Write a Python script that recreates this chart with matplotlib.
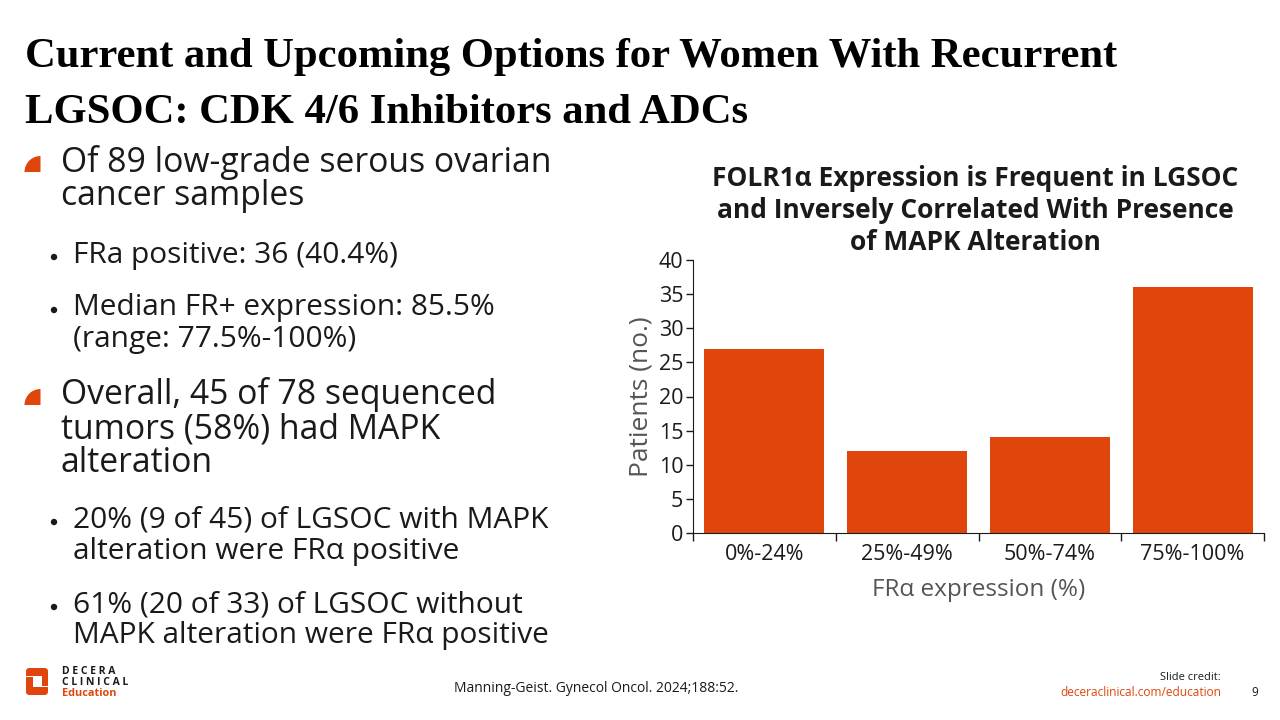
import numpy as np
import matplotlib.pyplot as plt
from matplotlib.patches import Wedge, FancyBboxPatch, Rectangle, Circle

# data
categories = ['0%-24%', '25%-49%', '50%-74%', '75%-100%']
patients = [27, 12, 14, 36]
yticks = [0, 5, 10, 15, 20, 25, 30, 35, 40]

ORANGE = '#E0450B'
DARK = '#1a1a1a'
GRAY = '#555555'
BODY = 'Open Sans'

fig = plt.figure(figsize=(12.8, 7.2), dpi=100)

# overlay in pixel coords for the slide text and decorations
bg = fig.add_axes([0, 0, 1, 1])
bg.set_xlim(0, 1280)
bg.set_ylim(720, 0)
bg.axis('off')

# slide title
bg.text(25, 57, 'Current and Upcoming Options for Women With Recurrent',
        fontsize=30.7, fontweight='bold', family='Liberation Serif',
        color='black', va='center', ha='left')
bg.text(25, 113, 'LGSOC: CDK 4/6 Inhibitors and ADCs',
        fontsize=30.7, fontweight='bold', family='Liberation Serif',
        color='black', va='center', ha='left')

# main bullets (quarter circle markers)
for yc in [172, 405]:
    bg.add_patch(Wedge((40.5, yc), 16, 180, 270, color=ORANGE, lw=0))

def line(x, y, s, size=24.3):
    bg.text(x, y, s, fontsize=size, family=BODY, color=DARK, va='center', ha='left')

line(61, 162, 'Of 89 low-grade serous ovarian')
line(61, 196, 'cancer samples')
line(61, 395, 'Overall, 45 of 78 sequenced')
line(61, 430, 'tumors (58%) had MAPK')
line(61, 463, 'alteration')

sub = 21.5
for y in [255, 308, 520, 605]:
    bg.add_patch(Circle((54, y + 2), 3.2, color=DARK, lw=0))
line(73, 255, 'FRa positive: 36 (40.4%)', sub)
line(73, 308, 'Median FR+ expression: 85.5%', sub)
line(73, 339, '(range: 77.5%-100%)', sub)
line(73, 520, '20% (9 of 45) of LGSOC with MAPK', sub)
line(73, 551, 'alteration were FR\u03b1 positive', sub)
line(73, 605, '61% (20 of 33) of LGSOC without', sub)
line(73, 636, 'MAPK alteration were FR\u03b1 positive', sub)

# chart title
for y, s in [(178, 'FOLR1\u03b1 Expression is Frequent in LGSOC'),
             (211, 'and Inversely Correlated With Presence'),
             (242, 'of MAPK Alteration')]:
    bg.text(975, y, s, fontsize=19, fontweight='bold', family=BODY,
            color=DARK, ha='center', va='center')

# footer
bg.text(596, 688, 'Manning-Geist. Gynecol Oncol. 2024;188:52.', fontsize=10,
        family=BODY, color=DARK, ha='center', va='center')
bg.text(1221, 678, 'Slide credit:', fontsize=8, family=BODY, color=DARK,
        ha='right', va='center')
bg.text(1221, 692, 'deceraclinical.com/education', fontsize=8.6, family=BODY,
        color=ORANGE, ha='right', va='center')
bg.text(1255, 692, '9', fontsize=8.6, family=BODY, color=DARK, ha='center', va='center')

# logo
bg.add_patch(FancyBboxPatch((26, 668), 22, 27, boxstyle='round,pad=0,rounding_size=3.5',
                            color=ORANGE, lw=0))
bg.add_patch(Rectangle((33, 675.5), 8.5, 11, color='white', lw=0))
bg.add_patch(Rectangle((25, 676), 8, 1.3, color='white', lw=0))
bg.add_patch(Rectangle((41, 686), 8, 1.3, color='white', lw=0))
bg.text(62, 672, 'D E C E R A', fontsize=7.5, fontweight='bold', family=BODY,
        color=DARK, va='center')
bg.text(62, 682.5, 'C L I N I C A L', fontsize=7.5, fontweight='bold', family=BODY,
        color=DARK, va='center')
bg.text(62, 693, 'Education', fontsize=7.8, fontweight='bold', family=BODY,
        color=ORANGE, va='center')

# bar chart
ax = fig.add_axes([693 / 1280, 1 - 533 / 720, (1264 - 693) / 1280, (533 - 260) / 720])
x = np.arange(len(categories))
ax.bar(x, patients, width=0.84, color=ORANGE)
ax.set_xlim(-0.5, len(categories) - 0.5)
ax.set_ylim(0, 40)
ax.set_yticks(yticks)
ax.set_xticks(x)
ax.set_xticklabels(categories)
ax.set_xticks(np.arange(len(categories) + 1) - 0.5, minor=True)
ax.tick_params(axis='x', which='major', length=0, pad=8, labelsize=15.5, labelcolor=DARK)
ax.tick_params(axis='x', which='minor', length=6, width=1, color=DARK)
ax.tick_params(axis='y', length=5, width=1, pad=2, labelsize=15.5, labelcolor=DARK, color=DARK)
for lab in ax.get_xticklabels() + ax.get_yticklabels():
    lab.set_family(BODY)
ax.spines['top'].set_visible(False)
ax.spines['right'].set_visible(False)
ax.spines['left'].set_color(DARK)
ax.spines['bottom'].set_color(DARK)
ax.set_ylabel('Patients (no.)', fontsize=19, family=BODY, color=GRAY, labelpad=4)
ax.set_xlabel('FR\u03b1 expression (%)', fontsize=17.5, family=BODY, color=GRAY, labelpad=9)

fig.savefig('out.png', dpi=100)
